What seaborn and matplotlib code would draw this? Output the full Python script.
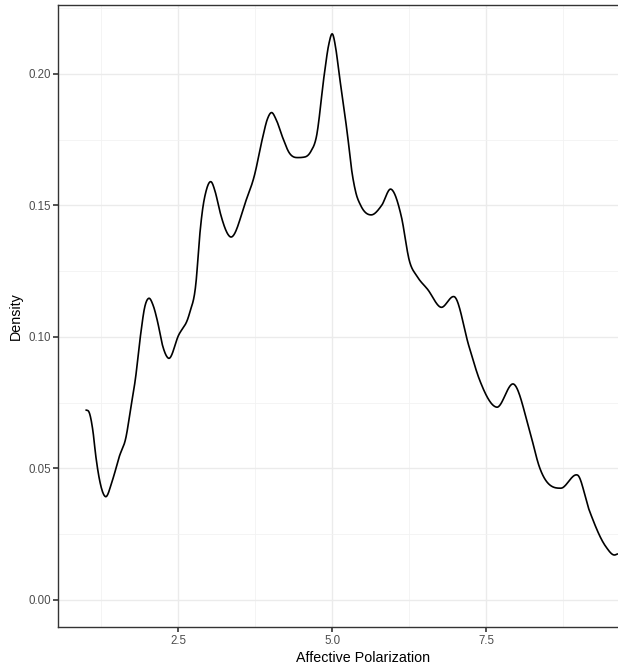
import numpy as np
import pandas as pd
import seaborn as sns
import matplotlib
matplotlib.use("Agg")
import matplotlib.pyplot as plt
from matplotlib.ticker import MultipleLocator

# Density curve (x = affective polarization, y = density)
x_vals = [1.00, 1.04, 1.11, 1.16, 1.22, 1.315, 1.43, 1.54, 1.65, 1.73, 1.80, 1.89,
          1.95, 2.02, 2.09, 2.16, 2.24, 2.34, 2.50, 2.68, 2.79, 2.84, 2.89, 2.95,
          3.03, 3.10, 3.17, 3.34, 3.60, 3.73, 3.87, 3.94, 4.01, 4.09, 4.19, 4.30,
          4.42, 4.55, 4.65, 4.74, 4.87, 4.94, 5.00, 5.06, 5.11, 5.17, 5.25, 5.31,
          5.38, 5.46, 5.63, 5.80, 5.95, 6.12, 6.25, 6.38, 6.55, 6.76, 6.98, 7.22,
          7.39, 7.67, 7.95, 8.20, 8.36, 8.71, 8.98, 9.17, 9.44, 9.58, 9.63]
y_vals = [0.0722, 0.0718, 0.0646, 0.0545, 0.0456, 0.0393, 0.0456, 0.0545, 0.0620, 0.0735,
          0.0837, 0.1015, 0.1110, 0.1147, 0.1120, 0.1060, 0.0970, 0.0919, 0.1005, 0.1090,
          0.1217, 0.1370, 0.1480, 0.1555, 0.1590, 0.1550, 0.1480, 0.1381, 0.1520, 0.1610,
          0.1760, 0.1825, 0.1853, 0.1825, 0.1760, 0.1700, 0.1682, 0.1684, 0.1705, 0.1760,
          0.2000, 0.2110, 0.2152, 0.2090, 0.2000, 0.1900, 0.1760, 0.1640, 0.1550, 0.1500,
          0.1464, 0.1500, 0.1562, 0.1458, 0.1290, 0.1229, 0.1180, 0.1113, 0.1153, 0.0963,
          0.0837, 0.0733, 0.0820, 0.0646, 0.0507, 0.0425, 0.0475, 0.0342, 0.0203, 0.0171,
          0.0175]

x_ticks = [2.5, 5.0, 7.5]
x_tick_labels = ["2.5", "5.0", "7.5"]
y_ticks = [0.00, 0.05, 0.10, 0.15, 0.20]
y_tick_labels = ["0.00", "0.05", "0.10", "0.15", "0.20"]
x_label = "Affective Polarization"
y_label = "Density"


def hermite_curve(xs, ys, per_seg=30):
    """C1 cubic Hermite through the read points, centred tangents, limited overshoot."""
    xs = np.asarray(xs, float); ys = np.asarray(ys, float)
    h = np.diff(xs); d = np.diff(ys) / h
    n = len(xs)
    m = np.zeros(n)
    for k in range(1, n - 1):
        m[k] = (h[k]*d[k-1] + h[k-1]*d[k]) / (h[k-1] + h[k])
        if d[k-1]*d[k] > 0:
            lim = 3*min(abs(d[k-1]), abs(d[k]))
        else:
            lim = 0.5*min(abs(d[k-1]), abs(d[k]))
        m[k] = np.sign(m[k]) * min(abs(m[k]), lim)
    m[0] = d[0]; m[-1] = d[-1]
    px, py = [], []
    for k in range(n - 1):
        t = np.linspace(0, 1, per_seg, endpoint=False)
        h00 = 2*t**3 - 3*t**2 + 1; h10 = t**3 - 2*t**2 + t
        h01 = -2*t**3 + 3*t**2; h11 = t**3 - t**2
        px.extend(xs[k] + t*h[k])
        py.extend(h00*ys[k] + h10*h[k]*m[k] + h01*ys[k+1] + h11*h[k]*m[k+1])
    px.append(xs[-1]); py.append(ys[-1])
    return np.array(px), np.array(py)


sx, sy = hermite_curve(x_vals, y_vals)
df = pd.DataFrame({"x": sx, "y": sy})

sns.set_theme(style="ticks")
plt.rcParams['font.family'] = ['Liberation Sans', 'DejaVu Sans']

fig = plt.figure(figsize=(6.18, 6.69), dpi=100)
W, H = 618, 669
left, right, top, bottom = 58.3, 668.0, 5.0, 627.0
ax = fig.add_axes([left/W, 1-bottom/H, (right-left)/W, (bottom-top)/H])

sns.lineplot(data=df, x="x", y="y", ax=ax, color="black", linewidth=1.2, sort=False,
             estimator=None)

ax.set_xlim(0.55, 10.45)
ax.set_ylim(-0.01027, 0.2262)
ax.set_xticks(x_ticks)
ax.set_xticklabels(x_tick_labels)
ax.set_yticks(y_ticks)
ax.set_yticklabels(y_tick_labels)
ax.xaxis.set_minor_locator(MultipleLocator(1.25))
ax.yaxis.set_minor_locator(MultipleLocator(0.025))

ax.grid(True, which="major", color="#EBEBEB", linewidth=1.0)
ax.grid(True, which="minor", color="#F2F2F2", linewidth=0.6)
ax.set_axisbelow(True)

for s in ax.spines.values():
    s.set_color("#333333")
    s.set_linewidth(1.0)
    s.set_visible(True)

ax.tick_params(axis="both", which="major", direction="out", length=3.5, width=1.2,
               color="#333333", labelcolor="#4D4D4D", labelsize=8.3, pad=2.0,
               bottom=True, left=True, top=False, right=False)
ax.tick_params(axis="both", which="minor", length=0, width=0)

ax.set_xlabel(x_label, fontsize=10.3, color="black", labelpad=3)
ax.set_ylabel(y_label, fontsize=10.3, color="black", labelpad=4)

fig.savefig("out.png", dpi=100)
